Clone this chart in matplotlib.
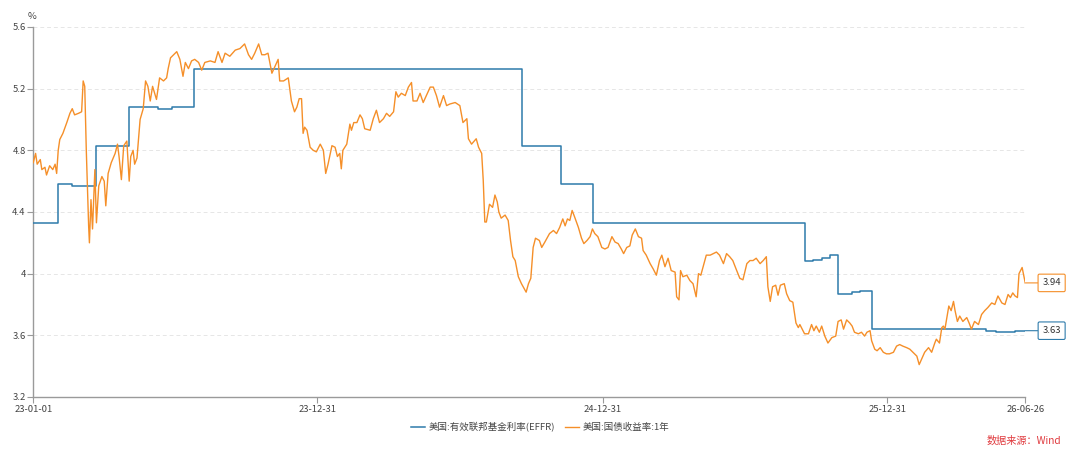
import matplotlib
matplotlib.use("Agg")
import matplotlib.pyplot as plt
import matplotlib.dates as mdates
import pandas as pd

plt.rcParams["font.family"] = ["Noto Sans CJK SC", "DejaVu Sans"]
plt.rcParams["axes.unicode_minus"] = False

START = pd.Timestamp("2023-01-01")
END = pd.Timestamp("2026-06-26")

# days since 2023-01-01, values in %
effr_day = [0, 32, 50, 81, 123, 160, 178, 206, 627, 677, 718, 990, 1000, 1012,
            1022, 1032, 1050, 1060, 1075, 1222, 1235, 1259, 1272]
effr_val = [4.33, 4.58, 4.57, 4.83, 5.08, 5.07, 5.08, 5.33, 4.83, 4.58, 4.33, 4.08,
            4.09, 4.10, 4.12, 3.87, 3.88, 3.89, 3.64, 3.63, 3.62, 3.63, 3.63]

ust_day = [
    0, 3, 5, 9, 11, 15, 17, 21, 25, 28, 30, 32, 34, 38, 43, 47, 50, 53, 58, 62,
    64, 66, 68, 71, 72, 74, 76, 79, 81, 84, 88, 91, 93, 96, 100, 105, 108, 110, 113, 116,
    120, 123, 125, 128, 130, 133, 137, 141, 144, 147, 150, 153, 155, 158, 162, 167, 171, 173, 176, 180,
    184, 188, 192, 195, 199, 203, 207, 212, 216, 220, 227, 233, 237, 242, 246, 252, 259, 265, 271, 276,
    280, 284, 289, 293, 297, 301, 306, 310, 314, 316, 321, 327, 331, 335, 338, 341, 344, 346, 348, 351,
    355, 359, 363, 368, 372, 375, 378, 383, 387, 390, 393, 395, 397, 402, 406, 408, 411, 415, 419, 422,
    425, 432, 436, 440, 444, 449, 453, 457, 462, 465, 468, 472, 477, 481, 485, 487, 492, 496, 500, 504,
    509, 513, 517, 521, 526, 530, 534, 541, 547, 551, 556, 558, 562, 568, 571, 575, 577, 579, 581, 585,
    589, 592, 595, 597, 600, 605, 609, 612, 615, 618, 622, 626, 632, 635, 638, 641, 644, 649, 652, 656,
    662, 667, 671, 675, 679, 682, 685, 688, 691, 694, 699, 703, 706, 710, 714, 717, 720, 724, 729, 733,
    737, 742, 746, 750, 754, 757, 761, 765, 768, 772, 776, 780, 782, 786, 791, 795, 799, 803, 806, 810,
    814, 818, 823, 825, 828, 830, 833, 838, 842, 846, 850, 853, 856, 859, 863, 868, 872, 876, 880, 885,
    889, 893, 897, 902, 906, 910, 915, 919, 923, 927, 932, 936, 940, 942, 945, 948, 952, 955, 958, 963,
    966, 970, 974, 978, 981, 983, 986, 989, 994, 998, 1001, 1004, 1008, 1011, 1015, 1019, 1024, 1029, 1032, 1036,
    1039, 1043, 1047, 1050, 1053, 1058, 1062, 1066, 1069, 1073, 1075, 1079, 1082, 1086, 1090, 1094, 1098, 1103, 1107, 1111,
    1115, 1120, 1124, 1128, 1133, 1136, 1139, 1143, 1148, 1152, 1156, 1158, 1162, 1165, 1167, 1169, 1174, 1177, 1180, 1182,
    1185, 1188, 1192, 1197, 1200, 1203, 1207, 1212, 1216, 1220, 1224, 1229, 1233, 1237, 1242, 1246, 1250, 1253, 1256, 1259,
    1262, 1264, 1268, 1272,
]
ust_val = [
    4.72, 4.78, 4.71, 4.74, 4.675, 4.69, 4.64, 4.70, 4.675, 4.71, 4.65, 4.80, 4.87, 4.91, 4.98, 5.04, 5.07, 5.03, 5.04, 5.05,
    5.25, 5.215, 4.80, 4.31, 4.20, 4.48, 4.29, 4.675, 4.33, 4.57, 4.63, 4.60, 4.44, 4.65, 4.72, 4.78, 4.84, 4.76, 4.61, 4.83,
    4.86, 4.60, 4.76, 4.80, 4.71, 4.75, 5.00, 5.07, 5.25, 5.215, 5.12, 5.215, 5.18, 5.13, 5.27, 5.25, 5.27, 5.33, 5.40, 5.42,
    5.44, 5.39, 5.28, 5.37, 5.33, 5.38, 5.39, 5.37, 5.32, 5.37, 5.38, 5.37, 5.44, 5.37, 5.43, 5.41, 5.45, 5.46, 5.49, 5.42,
    5.39, 5.43, 5.49, 5.42, 5.42, 5.43, 5.30, 5.345, 5.39, 5.25, 5.25, 5.27, 5.12, 5.05, 5.08, 5.135, 5.135, 4.91, 4.95, 4.93,
    4.82, 4.80, 4.79, 4.84, 4.80, 4.65, 4.71, 4.83, 4.82, 4.76, 4.78, 4.68, 4.80, 4.84, 4.97, 4.93, 4.98, 4.98, 5.03, 5.005,
    4.94, 4.93, 5.005, 5.06, 4.98, 5.005, 5.04, 5.02, 5.05, 5.18, 5.145, 5.17, 5.155, 5.21, 5.24, 5.12, 5.12, 5.17, 5.11, 5.155,
    5.21, 5.21, 5.155, 5.08, 5.155, 5.09, 5.10, 5.11, 5.09, 4.98, 5.005, 4.875, 4.84, 4.875, 4.82, 4.78, 4.605, 4.335, 4.335, 4.45,
    4.43, 4.51, 4.465, 4.40, 4.36, 4.38, 4.345, 4.215, 4.11, 4.085, 3.98, 3.935, 3.88, 3.935, 3.97, 4.17, 4.23, 4.215, 4.17, 4.205,
    4.26, 4.28, 4.26, 4.30, 4.355, 4.31, 4.355, 4.345, 4.41, 4.37, 4.30, 4.23, 4.195, 4.215, 4.24, 4.29, 4.26, 4.24, 4.17, 4.16,
    4.17, 4.24, 4.205, 4.195, 4.16, 4.13, 4.17, 4.18, 4.25, 4.29, 4.24, 4.23, 4.15, 4.12, 4.065, 4.03, 3.99, 4.085, 4.12, 4.045,
    4.10, 4.02, 4.01, 3.85, 3.83, 4.02, 3.98, 3.99, 3.955, 3.935, 3.85, 4.0, 3.99, 4.045, 4.12, 4.12, 4.13, 4.14, 4.12, 4.065,
    4.13, 4.11, 4.085, 4.02, 3.97, 3.96, 4.065, 4.085, 4.085, 4.10, 4.065, 4.085, 4.11, 3.915, 3.82, 3.915, 3.925, 3.86, 3.925, 3.935,
    3.87, 3.825, 3.815, 3.68, 3.65, 3.67, 3.64, 3.61, 3.61, 3.67, 3.63, 3.66, 3.62, 3.66, 3.595, 3.55, 3.585, 3.595, 3.69, 3.70,
    3.64, 3.70, 3.68, 3.66, 3.62, 3.61, 3.62, 3.595, 3.62, 3.63, 3.565, 3.51, 3.50, 3.52, 3.49, 3.48, 3.48, 3.49, 3.53, 3.54,
    3.53, 3.52, 3.51, 3.49, 3.465, 3.41, 3.445, 3.49, 3.52, 3.49, 3.55, 3.575, 3.55, 3.65, 3.66, 3.64, 3.79, 3.76, 3.82, 3.76,
    3.69, 3.725, 3.69, 3.715, 3.68, 3.64, 3.69, 3.67, 3.735, 3.76, 3.78, 3.81, 3.80, 3.855, 3.81, 3.80, 3.865, 3.845, 3.875, 3.855,
    3.845, 4.0, 4.04, 3.94,
]

x_ticks = ["2023-01-01", "2023-12-31", "2024-12-31", "2025-12-31", "2026-06-26"]
y_ticks = [3.2, 3.6, 4.0, 4.4, 4.8, 5.2, 5.6]
y_labels = ["3.2", "3.6", "4", "4.4", "4.8", "5.2", "5.6"]

BLUE = "#2e7bab"
ORANGE = "#f58f29"
TXT = "#444444"
AX = "#9a9a9a"

effr_dates = START + pd.to_timedelta(effr_day, unit="D")
ust_dates = START + pd.to_timedelta(ust_day, unit="D")

fig = plt.figure(figsize=(10.8, 4.55), dpi=100)
ax = fig.add_axes([0.0308, 0.1275, 0.9185, 0.8132])

ax.plot(effr_dates, effr_val, drawstyle="steps-post", color=BLUE, lw=1.1,
        label="美国:有效联邦基金利率(EFFR)", zorder=3)
ax.plot(ust_dates, ust_val, color=ORANGE, lw=1.0,
        label="美国:国债收益率:1年", zorder=4)

ax.set_xlim(START, END)
ax.set_ylim(3.2, 5.6)
ax.set_yticks(y_ticks)
ax.set_yticklabels(y_labels)
ax.set_xticks(pd.to_datetime(x_ticks))
ax.xaxis.set_major_formatter(mdates.DateFormatter("%y-%m-%d"))

ax.grid(axis="y", color="#e6e6e6", linestyle=(0, (4, 3)), lw=0.7)
ax.set_axisbelow(True)
for s in ["top", "right"]:
    ax.spines[s].set_visible(False)
for s in ["left", "bottom"]:
    ax.spines[s].set_color(AX)
    ax.spines[s].set_linewidth(1.0)
ax.tick_params(axis="both", colors=AX, labelcolor=TXT, labelsize=6.8, length=4, width=0.8, pad=1.5)

ax.text(-0.001, 1.015, "%", transform=ax.transAxes, ha="center", va="bottom",
        fontsize=6.8, color=TXT)

# end-value callouts
for val, col in [(ust_val[-1], ORANGE), (effr_val[-1], BLUE)]:
    ax.annotate(f"{val:.2f}", xy=(END, val), xytext=(19, 0), textcoords="offset points",
                ha="center", va="center", fontsize=6.8, color="#333333",
                bbox=dict(boxstyle="round,pad=0.45,rounding_size=0.15", fc="white", ec=col, lw=0.8),
                arrowprops=dict(arrowstyle="-", color=col, lw=0.8, shrinkA=0, shrinkB=0),
                annotation_clip=False)

fig.legend(loc="center", bbox_to_anchor=(0.5, 0.062), ncol=2, frameon=False,
           fontsize=6.8, handlelength=1.5, handletextpad=0.4, columnspacing=1.0,
           labelcolor=TXT)

fig.text(0.983, 0.031, "数据来源：Wind", ha="right", va="center", fontsize=7.3, color="#e03a3e")

fig.savefig("out.png", dpi=100)
